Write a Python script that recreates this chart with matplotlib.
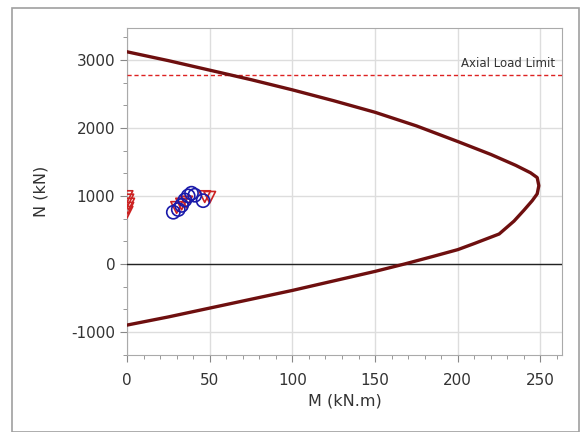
import numpy as np
import matplotlib.pyplot as plt
from matplotlib.patches import Rectangle
from matplotlib.ticker import MultipleLocator, AutoMinorLocator

plt.rcParams['axes.unicode_minus'] = False

# Interaction curve (M in kN.m, N in kN)
curve_m = [0, 25, 50, 75, 100, 125, 150, 175, 200, 220, 235, 244, 248, 249, 248, 245, 240, 234, 225,
           210, 200, 185, 168, 150, 125, 100, 75, 50, 25, 0]
curve_n = [3120, 2990, 2850, 2710, 2560, 2400, 2230, 2030, 1800, 1610, 1450, 1340, 1270, 1150, 1030,
           930, 790, 630, 440, 300, 210, 110, 0, -110, -250, -390, -520, -650, -780, -900]

axial_limit = 2780

# Demand points
circ_m = [28, 31, 33, 35, 37, 39, 41, 46]
circ_n = [760, 800, 860, 940, 1000, 1040, 1010, 930]
tri_m = [0, 0.5, 1, 0.5, 0, 30, 33, 36, 47, 50]
tri_n = [760, 820, 880, 940, 990, 830, 880, 910, 990, 980]

fig = plt.figure(figsize=(5.81, 4.32), dpi=100)
fig.patch.set_facecolor('white')
fig.add_artist(Rectangle((12 / 581, 0), 567 / 581, 1 - 8 / 432, transform=fig.transFigure,
                         fill=False, edgecolor='#a0a0a0', linewidth=1.2))

ax = fig.add_axes([127 / 581, 1 - 355 / 432, (562 - 127) / 581, (355 - 28) / 432])

ax.plot(curve_m, curve_n, color='#6e0f0f', linewidth=2.4, zorder=4)
ax.axhline(axial_limit, color='#dd2222', linestyle=(0, (3, 2)), linewidth=1, zorder=3)
ax.axhline(0, color='#222222', linewidth=1, zorder=3)
ax.text(259, axial_limit + 70, 'Axial Load Limit', ha='right', va='bottom', fontsize=8.5, color='#333333')

ax.scatter(tri_m, tri_n, marker='v', s=70, facecolors='none', edgecolors='#cc2222', linewidths=1.2, zorder=5)
ax.scatter(circ_m, circ_n, marker='o', s=90, facecolors='none', edgecolors='#1a1aaa', linewidths=1.2, zorder=6)

ax.set_xlim(0, 263)
ax.set_ylim(-1340, 3470)
ax.set_xticks([0, 50, 100, 150, 200, 250])
ax.set_yticks([-1000, 0, 1000, 2000, 3000])
ax.xaxis.set_minor_locator(MultipleLocator(10))
ax.yaxis.set_minor_locator(AutoMinorLocator(3))
ax.grid(True, which='major', color='#dddddd', linewidth=1, zorder=0)
ax.set_axisbelow(True)

for s in ax.spines.values():
    s.set_color('#aaaaaa')
ax.tick_params(which='both', direction='out', colors='#888888', labelcolor='#333333', labelsize=11)
ax.tick_params(which='major', length=5)
ax.tick_params(which='minor', length=3)
ax.tick_params(axis='x', pad=8)

ax.set_xlabel('M (kN.m)', fontsize=11.5, color='#333333')
ax.set_ylabel('N (kN)', fontsize=11.5, color='#333333', labelpad=16)

plt.savefig('out.png', dpi=100)
